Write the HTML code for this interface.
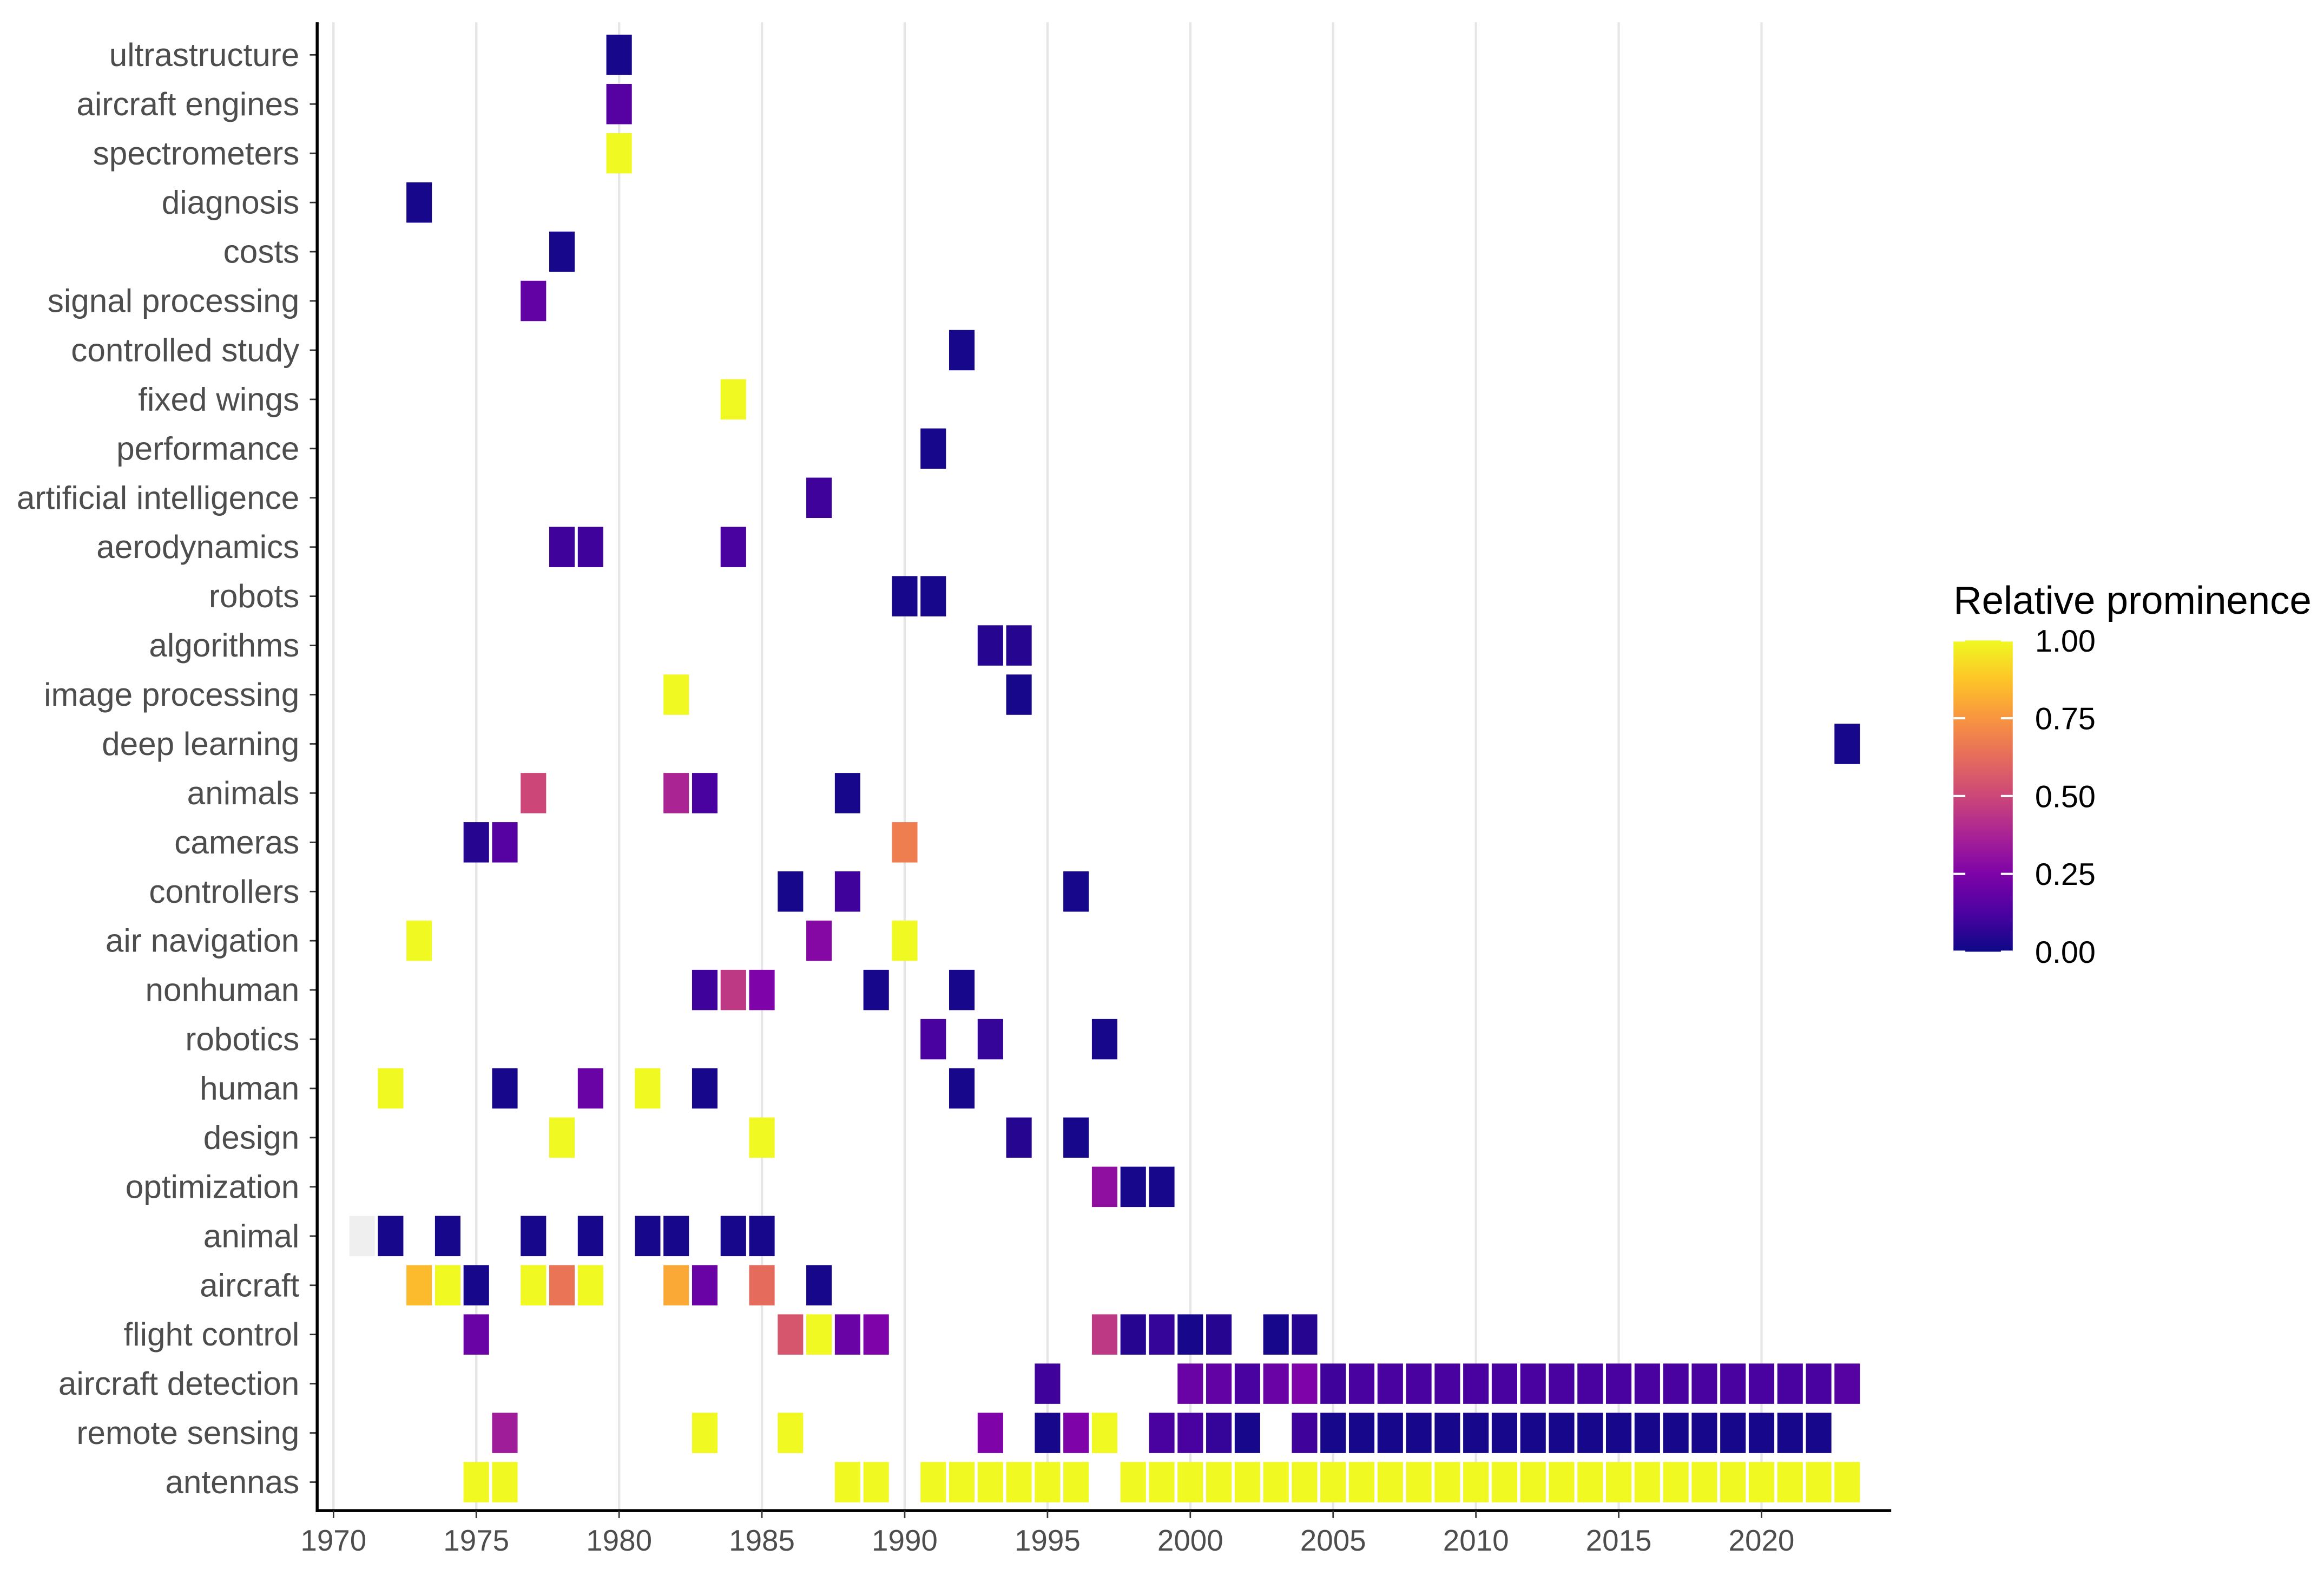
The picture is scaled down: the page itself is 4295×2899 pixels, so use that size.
<!DOCTYPE html>
<html><head><meta charset="utf-8"><style>
html,body{margin:0;padding:0;background:#fff;}
svg{display:block;font-family:"Liberation Sans",Arial,sans-serif;}
</style></head><body>
<svg id="chart" width="4295" height="2899" viewBox="0 0 1568 1058.4" preserveAspectRatio="none" xmlns="http://www.w3.org/2000/svg">
<defs><linearGradient id="plasma" x1="0" y1="1" x2="0" y2="0">
<stop offset="0" stop-color="#0d0887"/><stop offset="0.125" stop-color="#4c02a1"/><stop offset="0.25" stop-color="#7e03a8"/><stop offset="0.375" stop-color="#a92395"/><stop offset="0.5" stop-color="#cc4778"/><stop offset="0.625" stop-color="#e66c5c"/><stop offset="0.75" stop-color="#f89540"/><stop offset="0.875" stop-color="#fdc527"/><stop offset="1" stop-color="#f0f921"/></linearGradient></defs>
<g id="grid"></g><g id="tiles"></g><g id="axes"></g>
<g>
<text x="1318" y="414" font-size="26.5" fill="#000">Relative prominence</text>
<rect x="1318" y="432" width="40" height="210" fill="url(#plasma)"/>
<g id="legendTicks"></g>
</g>
</svg>
<script>
const rowLabels=["ultrastructure","aircraft engines","spectrometers","diagnosis","costs","signal processing","controlled study","fixed wings","performance","artificial intelligence","aerodynamics","robots","algorithms","image processing","deep learning","animals","cameras","controllers","air navigation","nonhuman","robotics","human","design","optimization","animal","aircraft","flight control","aircraft detection","remote sensing","antennas"];
const xTicks=[1970,1975,1980,1985,1990,1995,2000,2005,2010,2015,2020];
const legendTicks=[0,0.25,0.5,0.75,1];
const ultrastructure=[[1980,0.02]];
const aircraftEngines=[[1980,0.15]];
const spectrometers=[[1980,1]];
const diagnosis=[[1973,0.02]];
const costs=[[1978,0.02]];
const signalProcessing=[[1977,0.18]];
const controlledStudy=[[1992,0.02]];
const fixedWings=[[1984,1]];
const performance=[[1991,0.02]];
const artificialIntelligence=[[1987,0.1]];
const aerodynamics=[[1978,0.1],[1979,0.1],[1984,0.12]];
const robots=[[1990,0.02],[1991,0.02]];
const algorithms=[[1993,0.05],[1994,0.05]];
const imageProcessing=[[1982,1],[1994,0.02]];
const deepLearning=[[2023,0.02]];
const animals=[[1977,0.5],[1982,0.38],[1983,0.12],[1988,0.02]];
const cameras=[[1975,0.05],[1976,0.15],[1990,0.68]];
const controllers=[[1986,0.02],[1988,0.1],[1996,0.02]];
const airNavigation=[[1973,1],[1987,0.27],[1990,1]];
const nonhuman=[[1983,0.1],[1984,0.45],[1985,0.25],[1989,0.02],[1992,0.02]];
const robotics=[[1991,0.12],[1993,0.08],[1997,0.02]];
const human=[[1972,1],[1976,0.02],[1979,0.2],[1981,1],[1983,0.02],[1992,0.02]];
const design=[[1978,1],[1985,1],[1994,0.05],[1996,0.02]];
const optimization=[[1997,0.3],[1998,0.02],[1999,0.02]];
const animal=[[1971,null],[1972,0.02],[1974,0.02],[1977,0.02],[1979,0.02],[1981,0.02],[1982,0.02],[1984,0.02],[1985,0.02]];
const aircraft=[[1973,0.85],[1974,1],[1975,0.02],[1977,1],[1978,0.65],[1979,1],[1982,0.8],[1983,0.2],[1985,0.62],[1987,0.02]];
const flightControl=[[1975,0.2],[1986,0.55],[1987,1],[1988,0.2],[1989,0.25],[1997,0.45],[1998,0.05],[1999,0.08],[2000,0.02],[2001,0.05],[2003,0.02],[2004,0.05]];
const aircraftDetection=[[1995,0.1],[2000,0.2],[2001,0.18],[2002,0.12],[2003,0.2],[2004,0.25],[2005,0.1],[2006,0.12],[2007,0.12],[2008,0.12],[2009,0.12],[2010,0.12],[2011,0.12],[2012,0.12],[2013,0.12],[2014,0.12],[2015,0.12],[2016,0.12],[2017,0.12],[2018,0.12],[2019,0.12],[2020,0.12],[2021,0.12],[2022,0.12],[2023,0.15]];
const remoteSensing=[[1976,0.35],[1983,1],[1986,1],[1993,0.25],[1995,0.02],[1996,0.25],[1997,1],[1999,0.12],[2000,0.12],[2001,0.08],[2002,0.02],[2004,0.1],[2005,0.02],[2006,0.02],[2007,0.02],[2008,0.02],[2009,0.02],[2010,0.02],[2011,0.02],[2012,0.02],[2013,0.02],[2014,0.02],[2015,0.02],[2016,0.02],[2017,0.02],[2018,0.02],[2019,0.02],[2020,0.02],[2021,0.02],[2022,0.02]];
const antennas=[[1975,1],[1976,1],[1988,1],[1989,1],[1991,1],[1992,1],[1993,1],[1994,1],[1995,1],[1996,1],[1998,1],[1999,1],[2000,1],[2001,1],[2002,1],[2003,1],[2004,1],[2005,1],[2006,1],[2007,1],[2008,1],[2009,1],[2010,1],[2011,1],[2012,1],[2013,1],[2014,1],[2015,1],[2016,1],[2017,1],[2018,1],[2019,1],[2020,1],[2021,1],[2022,1],[2023,1]];
const rowData=[ultrastructure,aircraftEngines,spectrometers,diagnosis,costs,signalProcessing,controlledStudy,fixedWings,performance,artificialIntelligence,aerodynamics,robots,algorithms,imageProcessing,deepLearning,animals,cameras,controllers,airNavigation,nonhuman,robotics,human,design,optimization,animal,aircraft,flightControl,aircraftDetection,remoteSensing,antennas];

const NS="http://www.w3.org/2000/svg";
const x=yr=>225+(yr-1970)*19.27;
const y=i=>37+i*33.2;
const stops=["#0d0887","#4c02a1","#7e03a8","#a92395","#cc4778","#e66c5c","#f89540","#fdc527","#f0f921"];
function hex(h){return [1,3,5].map(k=>parseInt(h.substr(k,2),16));}
function plasma(v){if(v==null)return "#efefef";v=Math.max(0,Math.min(1,v));const p=v*8,i=Math.min(7,Math.floor(p)),t=p-i;const a=hex(stops[i]),b=hex(stops[i+1]);return "rgb("+a.map((c,k)=>Math.round(c+(b[k]-c)*t)).join(",")+")";}
function el(t,attrs,parent,txt){const e=document.createElementNS(NS,t);for(const k in attrs)e.setAttribute(k,attrs[k]);if(txt!=null)e.textContent=txt;parent.appendChild(e);return e;}
const grid=document.getElementById("grid"),tiles=document.getElementById("tiles"),axes=document.getElementById("axes"),lt=document.getElementById("legendTicks");
xTicks.forEach(t=>{const g=el("line",{x1:x(t),x2:x(t),y1:15,y2:1019,stroke:"#e6e6e6","stroke-width":1.6},grid);

});
rowData.forEach((row,i)=>{row.forEach(d=>{const r=el("rect",{x:x(d[0])-8.6,y:y(i)-13.6,width:17.2,height:27.2,fill:plasma(d[1])},tiles);

});
const lab=el("text",{x:202,y:y(i)+7.5,"font-size":22,fill:"#4d4d4d","text-anchor":"end"},axes,rowLabels[i]);


el("line",{x1:209,x2:214,y1:y(i),y2:y(i),stroke:"#333","stroke-width":1},axes);});
const ya=el("line",{x1:214,x2:214,y1:15,y2:1020,stroke:"#000","stroke-width":2},axes);


const xa=el("line",{x1:213,x2:1276,y1:1019,y2:1019,stroke:"#000","stroke-width":2},axes);


xTicks.forEach(t=>{el("line",{x1:x(t),x2:x(t),y1:1019,y2:1024,stroke:"#333","stroke-width":1},axes);
const tx=el("text",{x:x(t),y:1046,"font-size":20,fill:"#4d4d4d","text-anchor":"middle"},axes,String(t));

});
legendTicks.forEach(v=>{const yy=642-v*210;
el("line",{x1:1318,x2:1326,y1:yy,y2:yy,stroke:"#fff","stroke-width":1.5},lt);
el("line",{x1:1350,x2:1358,y1:yy,y2:yy,stroke:"#fff","stroke-width":1.5},lt);
const tx=el("text",{x:1373,y:yy+7.5,"font-size":21,fill:"#000"},lt,v.toFixed(2));

});
</script>
</body></html>
